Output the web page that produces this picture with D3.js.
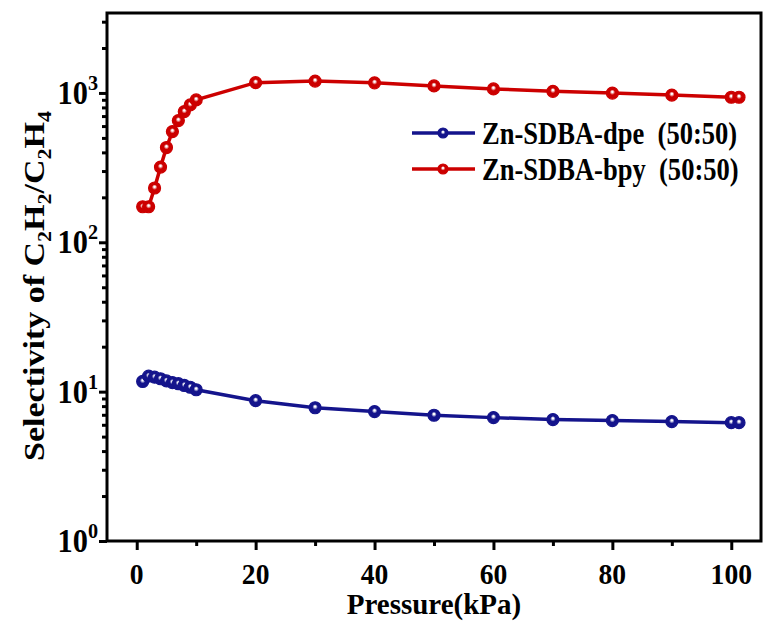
<!DOCTYPE html>
<html>
<head>
<meta charset="utf-8">
<script src="https://cdn.jsdelivr.net/npm/d3@7"></script>
<style>
  body { margin: 0; background: #fff; }
  text { font-family: "Liberation Serif", "Times New Roman", Times, serif; font-weight: bold; }
</style>
</head>
<body>
<div id="chart"></div>
<script>
const pressure = [1, 2, 3, 4, 5, 6, 7, 8, 9, 10, 20, 30, 40, 50, 60, 70, 80, 90, 100, 101.3];
const dpe = [11.7, 12.7, 12.5, 12.2, 11.8, 11.5, 11.3, 11.0, 10.7, 10.3, 8.7, 7.8, 7.35, 6.95, 6.7, 6.5, 6.4, 6.3, 6.2, 6.2];
const bpy = [173, 173, 231, 319, 431, 551, 653, 750, 831, 898, 1172, 1200, 1168, 1115, 1064, 1025, 998, 968, 936, 936];
const seriesNames = ['Zn-SDBA-dpe\u00a0\u00a0(50:50)', 'Zn-SDBA-bpy\u00a0\u00a0(50:50)'];
const seriesColors = ['#14148c', '#cc0000'];
const xTicks = [0, 20, 40, 60, 80, 100];
const xMinor = [10, 30, 50, 70, 90];
const yTicks = [1, 10, 100, 1000];

const width = 764, height = 624;
const margin = { top: 13, right: 3, bottom: 83, left: 107 };

const svg = d3.select('#chart')
  .append('svg')
  .attr('width', width)
  .attr('height', height);

const x = d3.scaleLinear()
  .domain([-5, 105])
  .range([margin.left, width - margin.right]);

const y = d3.scaleLog()
  .domain([1, 3430])
  .range([height - margin.bottom, margin.top]);

// glossy marker gradients
const defs = svg.append('defs');
seriesColors.forEach((c, i) => {
  const g = defs.append('radialGradient')
    .attr('id', 'ball' + i)
    .attr('cx', 0.5).attr('cy', 0.5).attr('r', 0.5)
    .attr('fx', 0.5).attr('fy', 0.38);
  g.append('stop').attr('offset', '0%').attr('stop-color', '#ffffff');
  g.append('stop').attr('offset', '12%').attr('stop-color', '#ffffff');
  g.append('stop').attr('offset', '45%').attr('stop-color', c);
  g.append('stop').attr('offset', '100%').attr('stop-color', c);
});

// axes
const xAxis = svg.append('g')
  .attr('transform', `translate(0,${height - margin.bottom})`)
  .call(d3.axisBottom(x).tickValues(xTicks).tickSize(9).tickFormat(''));
const xAxisMinor = svg.append('g')
  .attr('transform', `translate(0,${height - margin.bottom})`)
  .call(d3.axisBottom(x).tickValues(xMinor).tickSize(5).tickFormat(''));

const yMinorVals = [];
[1, 10, 100, 1000].forEach(d => {
  for (let k = 2; k <= 9; k++) if (d * k <= 3430) yMinorVals.push(d * k);
});
const yAxis = svg.append('g')
  .attr('transform', `translate(${margin.left},0)`)
  .call(d3.axisLeft(y).tickValues(yTicks).tickSize(8).tickFormat(''));
const yAxisMinor = svg.append('g')
  .attr('transform', `translate(${margin.left},0)`)
  .call(d3.axisLeft(y).tickValues(yMinorVals).tickSize(5).tickFormat(''));

[xAxis, xAxisMinor, yAxis, yAxisMinor].forEach(a => {
  a.select('.domain').remove();
  a.selectAll('line').attr('stroke', '#000').attr('stroke-width', 3);
});

// frame
svg.append('rect')
  .attr('x', margin.left)
  .attr('y', margin.top)
  .attr('width', width - margin.right - margin.left)
  .attr('height', height - margin.bottom - margin.top)
  .attr('fill', 'none')
  .attr('stroke', '#000')
  .attr('stroke-width', 3);

// tick labels
xTicks.forEach(d => {
  svg.append('text')
    .attr('transform', `translate(${x(d)},584) scale(0.92,1)`)
    .attr('text-anchor', 'middle')
    .attr('font-size', 30)
    .text(d);
});

yTicks.forEach(d => {
  const t = svg.append('text')
    .attr('transform', `translate(${margin.left - 9},${y(d) + 11}) scale(0.92,1)`)
    .attr('text-anchor', 'end')
    .attr('font-size', 33);
  t.append('tspan').text('10');
  t.append('tspan').attr('font-size', 22).attr('dy', -14).text(Math.round(Math.log10(d)));
});

// axis titles
svg.append('text')
  .attr('x', (x(-5) + x(105)) / 2)
  .attr('y', 614)
  .attr('text-anchor', 'middle')
  .attr('font-size', 29)
  .text('Pressure(kPa)');

const yt = svg.append('text')
  .attr('transform', `translate(44,286) rotate(-90) scale(1,0.88)`)
  .attr('text-anchor', 'middle')
  .attr('font-size', 34);
const sub = (t, s) => {
  yt.append('tspan').attr('dy', -8).text(t);
  yt.append('tspan').attr('font-size', 22).attr('dy', 8).text(s);
};
yt.append('tspan').attr('dy', 0).text('Selectivity of C');
yt.append('tspan').attr('font-size', 22).attr('dy', 8).text('2');
sub('H', '2');
sub('/C', '2');
sub('H', '4');

// series
const line = d3.line()
  .x(d => x(d[0]))
  .y(d => y(d[1]));

[dpe, bpy].forEach((vals, i) => {
  const pts = pressure.map((p, j) => [p, vals[j]]);
  svg.append('path')
    .datum(pts)
    .attr('d', line)
    .attr('fill', 'none')
    .attr('stroke', seriesColors[i])
    .attr('stroke-width', 3.5);
  svg.append('g')
    .selectAll('circle')
    .data(pts)
    .enter()
    .append('circle')
    .attr('cx', d => x(d[0]))
    .attr('cy', d => y(d[1]))
    .attr('r', 6)
    .attr('fill', `url(#ball${i})`)
    .attr('stroke', seriesColors[i])
    .attr('stroke-width', 1.2);
});

// legend
seriesNames.forEach((name, i) => {
  const ly = 133 + i * 36;
  svg.append('line')
    .attr('x1', 412).attr('x2', 475)
    .attr('y1', ly).attr('y2', ly)
    .attr('stroke', seriesColors[i])
    .attr('stroke-width', 3.5);
  svg.append('circle')
    .attr('cx', 443).attr('cy', ly)
    .attr('r', 5)
    .attr('fill', `url(#ball${i})`)
    .attr('stroke', seriesColors[i])
    .attr('stroke-width', 1.2);
  svg.append('text')
    .attr('transform', `translate(482,${ly + 11}) scale(0.83,1)`)
    .attr('font-size', 32)
    .text(name);
});
</script>
</body>
</html>
